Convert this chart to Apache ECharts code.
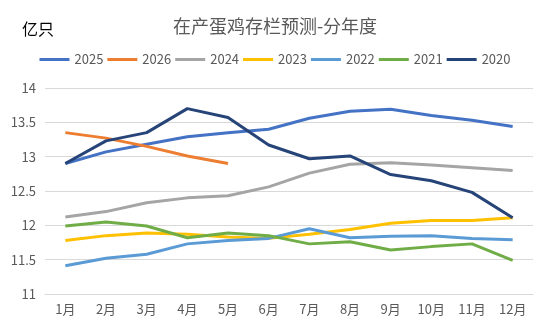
<!DOCTYPE html>
<html><head><meta charset="utf-8">
<script src="https://cdn.jsdelivr.net/npm/echarts@6/dist/echarts.min.js"></script>
<style>html,body{margin:0;padding:0;background:#fff}#c{width:550px;height:330px}</style>
</head><body><div id="c"></div>
<script>
const categories = ['1月','2月','3月','4月','5月','6月','7月','8月','9月','10月','11月','12月'];
const s2025 = [12.9,13.07,13.18,13.29,13.35,13.4,13.56,13.66,13.69,13.6,13.53,13.44];
const s2026 = [13.35,13.27,13.15,13.01,12.9];
const s2024 = [12.12,12.2,12.33,12.4,12.43,12.56,12.76,12.89,12.91,12.88,12.84,12.8];
const s2023 = [11.78,11.85,11.89,11.87,11.83,11.81,11.87,11.94,12.03,12.07,12.07,12.11];
const s2022 = [11.41,11.52,11.58,11.73,11.78,11.81,11.95,11.82,11.84,11.85,11.81,11.79];
const s2021 = [11.99,12.05,11.99,11.82,11.89,11.85,11.73,11.76,11.64,11.69,11.73,11.49];
const s2020 = [12.9,13.23,13.35,13.7,13.57,13.17,12.97,13.01,12.74,12.65,12.48,12.11];
const names = ['2025','2026','2024','2023','2022','2021','2020'];
const colors = ['#4472C4','#ED7D31','#A5A5A5','#FFC000','#5B9BD5','#70AD47','#264478'];
const dataList = [s2025,s2026,s2024,s2023,s2022,s2021,s2020];
const font = '"Noto Sans CJK SC", "Noto Sans", sans-serif';
const chart = echarts.init(document.getElementById('c'));
chart.setOption({
  animation:false,
  color: colors,
  title:[{text:'在产蛋鸡存栏预测-分年度', left:'center', top:12,
    textStyle:{fontSize:18,fontWeight:'normal',color:'#595959',fontFamily:font}},
    {text:'亿只', left:17, top:16, textStyle:{fontSize:16,fontWeight:'normal',color:'#000',fontFamily:font}}],
  legend:{top:48,left:'center',itemWidth:30,itemHeight:3,itemGap:4,icon:'rect',
    textStyle:{fontSize:13,color:'#595959',fontFamily:font},
    data:names},
  grid:{left:45,right:17,top:88,bottom:36,containLabel:false},
  xAxis:{type:'category',data:categories,boundaryGap:true,
    axisLine:{show:true,lineStyle:{color:'#d9d9d9'}},axisTick:{show:false},
    axisLabel:{color:'#595959',fontSize:13,fontFamily:font,margin:9}},
  yAxis:{type:'value',min:11,max:14,interval:0.5,
    axisLine:{show:false},axisTick:{show:false},
    splitLine:{lineStyle:{color:'#d9d9d9',width:1}},
    axisLabel:{color:'#595959',fontSize:13,fontFamily:font,margin:9}},
  series: names.map((n,i)=>({name:n,type:'line',data:dataList[i],symbol:'none',
    lineStyle:{width:3,color:colors[i]},itemStyle:{color:colors[i]}}))
});
</script></body></html>
